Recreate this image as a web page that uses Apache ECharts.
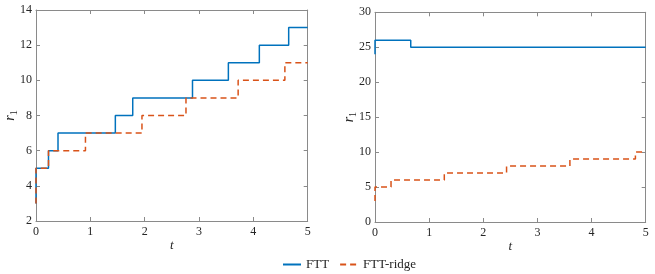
<!DOCTYPE html>
<html>
<head>
<meta charset="utf-8">
<script src="https://cdn.jsdelivr.net/npm/echarts@6/dist/echarts.min.js"></script>
<style>html,body{margin:0;padding:0;background:#fff}#c{width:655px;height:274px}</style>
</head>
<body>
<div id="c"></div>
<script>
// Left panel (step change times and values)
const leftFttT = [0, 0, 0.23, 0.405, 1.46, 1.78, 2.88, 3.54, 4.11, 4.65, 5];
const leftFttV = [3, 5, 6, 7, 8, 9, 10, 11, 12, 13, 13];
const leftRidgeT = [0, 0, 0.23, 0.91, 1.95, 2.76, 3.72, 4.58, 5];
const leftRidgeV = [3, 5, 6, 7, 8, 9, 10, 11, 11];
// Right panel
const rightFttT = [0, 0, 0.66, 5];
const rightFttV = [24, 26, 25, 25];
const rightRidgeT = [0, 0, 0.296, 1.28, 2.43, 3.6, 4.81, 5];
const rightRidgeV = [3, 5, 6, 7, 8, 9, 10, 10];
// Axis ticks
const xTicks = [0, 1, 2, 3, 4, 5];
const leftYRange = [2, 14, 2];
const rightYRange = [0, 30, 5];
const seriesNames = ['FTT', 'FTT-ridge'];

const zip = (t, v) => t.map((x, i) => [x, v[i]]);
const FONT = 'Liberation Serif';
const AX = '#8a8a8a';
const TXT = '#262626';
const BLUE = '#0072BD';
const ORANGE = '#D95319';

function xAx(grid, pos, show) {
  return {
    type: 'value', gridIndex: grid, position: pos, min: xTicks[0], max: xTicks[xTicks.length - 1], interval: 1,
    axisLine: {show: true, onZero: false, lineStyle: {color: AX, width: 1}},
    axisTick: {show: true, inside: true, length: 4, lineStyle: {color: AX}},
    axisLabel: {show: show, color: TXT, fontFamily: FONT, fontSize: 12, margin: 5},
    splitLine: {show: false},
    name: show ? 't' : '', nameLocation: 'middle', nameGap: 18, nameMoveOverlap: false,
    nameTextStyle: {fontFamily: FONT, fontStyle: 'italic', fontSize: 13, color: TXT}
  };
}
function yAx(grid, pos, show, r) {
  return {
    type: 'value', gridIndex: grid, position: pos, min: r[0], max: r[1], interval: r[2],
    axisLine: {show: true, onZero: false, lineStyle: {color: AX, width: 1}},
    axisTick: {show: true, inside: true, length: 4, lineStyle: {color: AX}},
    axisLabel: {show: show, color: TXT, fontFamily: FONT, fontSize: 12, margin: 4},
    splitLine: {show: false},
    name: show ? '{i|r}{s|1}' : '', nameLocation: 'middle', nameGap: 17, nameRotate: 90, nameMoveOverlap: false,
    nameTextStyle: {rich: {
      i: {fontFamily: FONT, fontStyle: 'italic', fontSize: 14, color: TXT},
      s: {fontFamily: FONT, fontSize: 10, color: TXT, verticalAlign: 'bottom', padding: [8, 0, 0, 0]}
    }}
  };
}

const chart = echarts.init(document.getElementById('c'), null, {renderer: 'canvas'});
chart.setOption({
  animation: false,
  backgroundColor: '#fff',
  grid: [
    {left: 36, top: 10, width: 271.7, height: 211},
    {left: 375, top: 12.3, width: 270.7, height: 209.7}
  ],
  xAxis: [xAx(0, 'bottom', true), xAx(0, 'top', false), xAx(1, 'bottom', true), xAx(1, 'top', false)],
  yAxis: [yAx(0, 'left', true, leftYRange), yAx(0, 'right', false, leftYRange), yAx(1, 'left', true, rightYRange), yAx(1, 'right', false, rightYRange)],
  legend: {
    show: true, orient: 'horizontal', top: 253, left: 277, itemWidth: 18, itemHeight: 10, itemGap: 10,
    itemStyle: {opacity: 0},
    textStyle: {fontFamily: FONT, fontSize: 13, color: TXT},
    data: seriesNames
  },
  series: [
    {name: seriesNames[0], type: 'line', step: 'end', xAxisIndex: 0, yAxisIndex: 0, symbol: 'none', data: zip(leftFttT, leftFttV),
     lineStyle: {color: BLUE, width: 1.5}, itemStyle: {color: BLUE}, z: 3},
    {name: seriesNames[1], type: 'line', step: 'end', xAxisIndex: 0, yAxisIndex: 0, symbol: 'none', data: zip(leftRidgeT, leftRidgeV),
     lineStyle: {color: ORANGE, width: 1.5, type: [6, 4]}, itemStyle: {color: ORANGE}, z: 4},
    {name: seriesNames[0], type: 'line', step: 'end', xAxisIndex: 2, yAxisIndex: 2, symbol: 'none', data: zip(rightFttT, rightFttV),
     lineStyle: {color: BLUE, width: 1.5}, itemStyle: {color: BLUE}, z: 3},
    {name: seriesNames[1], type: 'line', step: 'end', xAxisIndex: 2, yAxisIndex: 2, symbol: 'none', data: zip(rightRidgeT, rightRidgeV),
     lineStyle: {color: ORANGE, width: 1.5, type: [6, 4]}, itemStyle: {color: ORANGE}, z: 4}
  ]
});
</script>
</body>
</html>
